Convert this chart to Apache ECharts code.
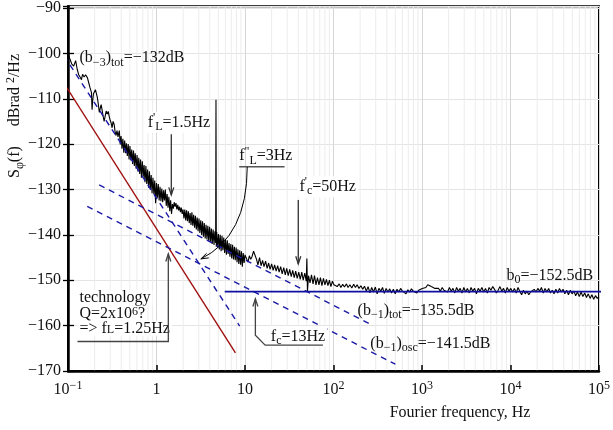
<!DOCTYPE html>
<html>
<head>
<meta charset="utf-8">
<script src="https://cdn.jsdelivr.net/npm/echarts@6/dist/echarts.min.js"></script>
<style>
html, body { margin: 0; padding: 0; background: #fff; }
#chart { width: 613px; height: 430px; }
</style>
</head>
<body>
<div id="chart"></div>
<script>
// decade ticks of the frequency axis and their labels
const decadeTicks = [0.1, 1, 10, 100, 1000, 10000, 100000];
const decadeLabels = ['10{s|−1}', '1', '10', '10{s|2}', '10{s|3}', '10{s|4}', '10{s|5}'];

const spectrumLow = [
    [0.100,-99.5],[0.104,-101.0],[0.110,-102.3],[0.116,-102.8],[0.122,-101.6],[0.127,-103.5],
    [0.132,-104.7],[0.138,-105.3],[0.142,-105.8],[0.146,-104.6],[0.152,-105.2],[0.158,-104.7],
    [0.162,-104.5],[0.166,-105.4],[0.170,-106.2],[0.177,-107.5],[0.184,-108.6],[0.187,-112.4],
    [0.190,-110.5],[0.194,-108.9],[0.199,-108.5],[0.204,-108.0],[0.209,-108.2],[0.214,-109.6],
    [0.220,-111.2],[0.226,-113.0],[0.232,-112.0],[0.237,-111.3],[0.243,-112.5],[0.249,-113.8],
    [0.256,-115.0],[0.263,-114.6],[0.270,-112.7],[0.278,-113.4],[0.285,-112.8],[0.292,-113.9],
    [0.300,-114.8],[0.307,-115.3],[0.315,-116.4],[0.323,-115.0],[0.332,-115.6],[0.340,-117.2],
    [0.349,-118.1],[0.358,-117.0],[0.367,-118.4]
];
const spectrumMid = [
    [0.380,-117.0],[0.389,-120.1],[0.398,-118.2],[0.407,-121.0],[0.417,-118.8],[0.427,-121.9],
    [0.437,-119.2],[0.447,-122.0],[0.457,-119.8],[0.468,-122.6],[0.479,-120.0],[0.490,-123.4],
    [0.501,-120.4],[0.513,-123.6],[0.525,-121.2],[0.537,-124.4],[0.550,-121.4],[0.562,-124.8],
    [0.575,-122.0],[0.589,-125.4],[0.603,-122.4],[0.617,-126.0],[0.631,-123.0],[0.646,-126.6],
    [0.661,-123.4],[0.676,-127.4],[0.692,-123.8],[0.708,-127.2],[0.724,-124.6],[0.741,-128.4],
    [0.759,-124.8],[0.776,-128.8],[0.794,-125.6],[0.813,-129.6],[0.832,-126.0],[0.851,-130.0],
    [0.871,-126.8],[0.891,-130.8],[0.912,-127.4],[0.933,-131.0],[0.955,-128.0],[0.977,-133.0],
    [1.000,-128.6],[1.023,-131.8],[1.047,-128.8],[1.072,-132.4],[1.096,-129.4],[1.122,-132.6],
    [1.148,-129.8],[1.175,-132.8],[1.202,-130.2],[1.230,-132.4],[1.259,-130.0],[1.288,-133.6],
    [1.318,-131.0],[1.349,-134.0],[1.380,-131.6],[1.413,-134.8],[1.445,-132.4],[1.479,-135.4],
    [1.514,-133.2],[1.549,-134.2],[1.585,-132.8],[1.622,-133.8],[1.660,-133.0],[1.698,-134.4],
    [1.738,-133.4],[1.778,-134.6],[1.820,-133.8],[1.862,-135.0],[1.905,-134.0],[1.950,-135.4],
    [1.995,-134.4],[2.042,-136.4],[2.089,-134.4],[2.138,-136.8],[2.188,-134.6],[2.239,-137.0],
    [2.291,-134.8],[2.344,-137.4],[2.399,-135.2],[2.455,-137.8],[2.512,-135.0],[2.570,-138.0],
    [2.630,-135.6],[2.692,-138.4],[2.754,-135.8],[2.818,-138.8],[2.884,-136.2],[2.951,-139.2],
    [3.020,-136.4],[3.090,-139.6],[3.162,-136.8],[3.236,-140.0],[3.311,-137.0],[3.388,-140.4],
    [3.467,-137.4],[3.548,-140.8],[3.631,-137.8],[3.715,-141.0],[3.802,-138.0],[3.890,-141.4],
    [3.981,-138.2],[4.074,-141.6],[4.169,-138.6],[4.266,-142.0],[4.365,-138.8],[4.467,-142.2],
    [4.571,-139.2],[4.660,-141.8],[4.700,-110.2],[4.740,-142.6],[4.786,-139.4],[4.898,-142.8],
    [5.012,-139.8],[5.129,-143.2],[5.248,-140.0],[5.370,-143.6],[5.495,-140.2],[5.623,-143.4],
    [5.754,-140.6],[5.888,-144.0],[6.026,-141.0],[6.166,-144.4],[6.310,-141.2],[6.457,-144.2],
    [6.607,-141.8],[6.761,-144.8],[6.918,-142.0],[7.079,-145.2],[7.244,-142.2],[7.413,-145.4],
    [7.586,-142.6],[7.762,-145.6],[7.943,-142.8],[8.128,-146.0],[8.318,-143.2],[8.511,-146.4],
    [8.710,-143.4],[8.913,-146.6],[9.120,-143.6],[9.333,-147.0],[9.550,-144.0],[9.772,-146.2],
    [10.00,-144.4]
];
const spectrumHigh = [
    [10.4,-144.0],[10.8,-146.0],[11.2,-144.6],[11.6,-145.4],[12.0,-144.8],[12.5,-143.6],
    [13.0,-144.0],[13.5,-145.4],[14.0,-146.6],[14.6,-145.0],[15.2,-146.8],[15.8,-145.6],
    [16.4,-147.0],[17.1,-145.8],[17.8,-147.4],[18.5,-146.2],[19.2,-147.6],[20.0,-146.4],
    [20.8,-147.8],[21.6,-146.6],[22.5,-148.0],[23.4,-146.8],[24.3,-148.2],[25.3,-147.0],
    [26.3,-148.6],[27.4,-147.2],[28.5,-148.8],[29.6,-147.4],[30.8,-149.0],[32.0,-147.6],
    [33.3,-149.2],[34.6,-147.8],[36.0,-149.4],[37.4,-148.0],[38.9,-149.6],[40.5,-148.2],
    [42.1,-149.8],[43.8,-148.2],[45.5,-150.0],[47.3,-148.4],[49.2,-150.2],[50.0,-145.2],
    [50.8,-152.4],[52.2,-149.0],[54.3,-150.6],[56.4,-148.8],[58.7,-150.8],[61.0,-149.0],
    [63.4,-151.0],[65.9,-149.4],[68.5,-151.0],[71.2,-149.4],[74.0,-151.2],[77.0,-149.6],
    [80.0,-151.0],[83.2,-149.8],[86.5,-151.2],[89.9,-150.0],[93.5,-151.4],[97.2,-150.2],
    [101,-151.0]
];
const spectrumFloor = [
    [105,-150.6],[110,-151.4],[116,-150.8],[121,-151.6],[127,-150.9],[133,-151.5],
    [140,-150.8],[146,-151.6],[153,-151.0],[161,-151.7],[169,-150.9],[177,-151.6],
    [185,-151.0],[194,-151.8],[204,-151.2],[214,-152.0],[224,-151.3],[235,-152.4],
    [246,-151.4],[258,-152.8],[270,-151.6],[283,-152.6],[297,-151.5],[311,-153.0],
    [326,-151.8],[342,-152.4],[358,-151.6],[375,-152.9],[393,-151.8],[412,-152.6],
    [432,-151.9],[453,-152.8],[475,-152.0],[498,-153.0],[522,-152.0],[547,-152.6],
    [573,-151.8],[601,-152.4],[630,-152.2],[660,-153.0],[692,-152.1],[725,-152.6],
    [760,-151.9],[797,-152.4],[835,-152.0],[875,-152.8],[917,-152.2],[961,-152.6],
    [1007,-151.8],[1055,-152.2],[1106,-151.6],[1160,-151.0],[1215,-150.8],[1274,-151.4],
    [1335,-151.0],[1400,-151.8],[1467,-152.2],[1540,-151.8],[1610,-152.4],[1690,-151.6],
    [1770,-152.2],[1855,-151.8],[1945,-152.6],[2040,-151.6],[2140,-152.4],[2240,-151.8],
    [2350,-152.8],[2460,-151.6],[2580,-152.4],[2700,-151.8],[2830,-152.8],[2970,-151.6],
    [3110,-152.6],[3260,-151.8],[3420,-152.8],[3580,-151.6],[3750,-152.4],[3930,-151.8],
    [4120,-153.0],[4320,-151.8],[4530,-152.4],[4750,-151.6],[4980,-152.6],[5220,-151.8],
    [5470,-152.8],[5730,-151.6],[6010,-152.2],[6300,-151.4],[6600,-152.0],[6920,-152.8],
    [7250,-152.2],[7600,-151.4],[7970,-152.4],[8350,-151.8],[8750,-152.8],[9170,-151.6],
    [9620,-152.4],[10080,-151.8],[10560,-152.6],[11070,-151.8],[11600,-152.8],[12160,-151.6],
    [12740,-152.4],[13350,-153.2],[13990,-152.2],[14660,-153.0],[15370,-152.4],[16100,-153.2],
    [16880,-152.6],[17690,-153.0],[18540,-152.0],[19430,-152.6],[20360,-151.8],[21340,-152.4],
    [22360,-151.6],[23440,-152.8],[24560,-151.8],[25740,-152.6],[26980,-151.8],[28270,-152.8],
    [29630,-152.2],[31050,-153.0],[32540,-152.0],[34100,-152.8],[35740,-151.8],[37460,-152.6],
    [39260,-152.0],[41140,-153.0],[43110,-152.2],[45180,-153.2],[47350,-152.2],[49620,-153.0],
    [52000,-152.4],[54500,-153.4],[57110,-152.6],[59850,-153.6],[62720,-152.6],[65730,-153.6],
    [68890,-152.8],[72190,-153.8],[75650,-153.0],[79280,-154.0],[83090,-153.2],[87080,-154.2],
    [91250,-153.4],[95630,-154.0],[100000,-153.6]
];

// power law asymptotes, end points
const lineTechnology = [[0.083, -105.5], [7.8, -166.0]];
const lineB3tot = [[0.09, -100.5], [8.7, -160.1]];
const lineB1tot = [[0.225, -129.0], [250, -159.5]];
const lineB1osc = [[0.165, -133.7], [500, -168.5]];
const lineB0 = [[5.9, -152.5], [115000, -152.5]];

const FONT = 'Liberation Serif';
const BLUE = '#1a1aa6';

const chart = echarts.init(document.getElementById('chart'));

const rich = {
    sub: { fontSize: 12, lineHeight: 12, verticalAlign: 'bottom', fontFamily: FONT, fill: '#111' },
    sup: { fontSize: 12, lineHeight: 12, verticalAlign: 'top', fontFamily: FONT, fill: '#111' }
};

const Option = {
    animation: false,
    backgroundColor: '#fff',
    grid: { left: 68, right: 6, top: 2, bottom: 59, show: true, borderColor: '#000', borderWidth: 2 },
    xAxis: {
        type: 'log',
        logBase: 10,
        min: 0.1,
        max: 100000,
        splitNumber: 6,
        axisLine: { lineStyle: { color: '#000', width: 2.5 } },
        axisTick: { inside: true, length: 6, lineStyle: { color: '#000', width: 1.5 } },
        axisLabel: {
            color: '#111',
            fontFamily: FONT,
            fontSize: 16,
            lineHeight: 19,
            margin: 9,
            formatter: function (v) {
                const i = decadeTicks.findIndex(t => Math.abs(Math.log10(t) - Math.log10(v)) < 0.01);
                return i >= 0 ? decadeLabels[i] : '';
            },
            rich: { s: { fontSize: 12, lineHeight: 12, verticalAlign: 'top', fontFamily: FONT, color: '#111' } }
        },
        splitLine: { show: true, lineStyle: { color: '#d6d6d6', width: 1 } }
    },
    yAxis: [{
        type: 'value',
        min: -170,
        max: -89.6,
        interval: 10,
        axisLine: { show: true, lineStyle: { color: '#000', width: 2.5 } },
        axisTick: { inside: true, length: 6, lineStyle: { color: '#000', width: 1.3 } },
        axisLabel: {
            color: '#111', fontFamily: FONT, fontSize: 16, margin: 7, showMaxLabel: false,
            formatter: v => String(v).replace('-', '−')
        },
        splitLine: { lineStyle: { color: '#e4e4e4', width: 1 } }
    }, {
        type: 'value',
        min: -170,
        max: -89.6,
        interval: 10,
        position: 'left',
        axisLine: { show: false },
        axisTick: { inside: false, length: 5, lineStyle: { color: '#000', width: 1.3 } },
        axisLabel: { show: false },
        splitLine: { show: false }
    }],
    series: [
        { type: 'line', data: spectrumLow.concat(spectrumMid, spectrumHigh, spectrumFloor),
          symbol: 'none', lineStyle: { color: '#000', width: 1.1 }, z: 2 },
        { type: 'line', data: lineTechnology, symbol: 'none', clip: false,
          lineStyle: { color: '#a01010', width: 1.4 }, z: 3 },
        { type: 'line', data: lineB3tot, symbol: 'none', clip: false,
          lineStyle: { color: BLUE, width: 1.4, type: [6, 5] }, z: 3 },
        { type: 'line', data: lineB1tot, symbol: 'none', clip: false,
          lineStyle: { color: BLUE, width: 1.4, type: [6, 5] }, z: 3 },
        { type: 'line', data: lineB1osc, symbol: 'none', clip: false,
          lineStyle: { color: BLUE, width: 1.4, type: [6, 5] }, z: 3 },
        { type: 'line', data: lineB0, symbol: 'none', clip: false,
          lineStyle: { color: '#1010a0', width: 1.6 }, z: 3 }
    ]
};
chart.setOption(Option);

function px(d) {
    return chart.convertToPixel({ gridIndex: 0 }, d);
}

function text(at, str, opts = {}) {
    const p = px(at);
    return {
        type: 'text', x: p[0], y: p[1], z: 100, silent: true,
        style: {
            text: str, fontFamily: FONT, fontSize: 16, lineHeight: opts.lh || 21, fill: '#111',
            align: 'left', verticalAlign: 'middle', rich: rich,
            backgroundColor: opts.bg ? '#fff' : null, padding: opts.bg ? [0, 2, 0, 2] : 0
        }
    };
}

function head(from, to, color, width) {
    const ang = Math.atan2(to[1] - from[1], to[0] - from[0]);
    const L = 8, a = 0.32;
    return {
        type: 'polyline', z: 100, silent: true,
        shape: { points: [
            [to[0] - L * Math.cos(ang - a), to[1] - L * Math.sin(ang - a)], to,
            [to[0] - L * Math.cos(ang + a), to[1] - L * Math.sin(ang + a)]] },
        style: { stroke: color, lineWidth: width, fill: null }
    };
}

function arrow(pts, color, width, withHead) {
    const p = pts.map(px);
    const els = [{ type: 'polyline', z: 100, silent: true, shape: { points: p },
        style: { stroke: color, lineWidth: width, fill: null } }];
    if (withHead) els.push(head(p[p.length - 2], p[p.length - 1], color, width));
    return els;
}

const gfx = [];

// minor log grid lines
const gridTop = px([1, -89.6])[1], gridBottom = px([1, -170])[1];
for (let k = -1; k < 5; k++) {
    for (let m = 2; m <= 9; m++) {
        const x = px([m * Math.pow(10, k), -120])[0];
        gfx.push({ type: 'line', z: 0, silent: true, shape: { x1: x, y1: gridTop, x2: x, y2: gridBottom },
            style: { stroke: '#ececec', lineWidth: 1 } });
    }
}

gfx.push(text([0.135, -101], '(b{sub|−3}){sub|tot}=−132dB'));
gfx.push(text([0.754, -115.2], "f{sup|'}{sub|L}=1.5Hz", { bg: true }));
gfx.push(...arrow([[1.47, -117.8], [1.47, -131.2]], '#333', 1.3, true));

gfx.push(text([8.6, -122.6], 'f{sup|"}{sub|L}=3Hz'));
gfx.push(...arrow([[8.6, -125.0], [28, -125.0]], '#555', 1.5, false));
{
    const a = px([10.6, -125.0]), c = px([10.6, -140.3]), b = px([3.17, -145.3]);
    gfx.push({ type: 'bezierCurve', z: 100, silent: true,
        shape: { x1: a[0], y1: a[1], x2: b[0], y2: b[1], cpx1: c[0], cpy1: c[1] },
        style: { stroke: '#000', lineWidth: 1, fill: null } });
    gfx.push(head(c, b, '#000', 1));
}

gfx.push(text([39.1, -129.4], "f{sup|'}{sub|c}=50Hz", { bg: true }));
gfx.push(...arrow([[40, -132.3], [40, -146.4]], '#333', 1.3, true));

gfx.push(text([0.128, -153.8], 'technology', { bg: true, lh: 15 }));
gfx.push(text([0.128, -157.3], 'Q=2x10{sup|6}?', { bg: true, lh: 15 }));
gfx.push(text([0.128, -160.6], '=> f{sub|L}=1.25Hz', { bg: true, lh: 15 }));
gfx.push(...arrow([[0.128, -163.5], [1.36, -163.5], [1.36, -144.2]], '#444', 1.3, true));

gfx.push(text([18.6, -162.4], 'f{sub|c}=13Hz', { bg: true }));
gfx.push(...arrow([[76, -164.3], [16.9, -164.3], [13.1, -162.1], [13.1, -154.1]], '#444', 1.3, true));

gfx.push(text([187, -156.7], '(b{sub|−1}){sub|tot}=−135.5dB'));
gfx.push(text([261, -163.9], '(b{sub|−1}){sub|osc}=−141.5dB'));
gfx.push(text([8990, -149.0], 'b{sub|0}=−152.5dB'));

// axis titles
gfx.push({ type: 'text', x: 15, y: 116, rotation: Math.PI / 2, z: 100, silent: true,
    style: { text: 'S{sub|φ}(f)     dBrad {sup|2}/Hz', fontFamily: FONT, fontSize: 16, lineHeight: 21,
        fill: '#111', align: 'center', verticalAlign: 'middle', rich: rich } });
gfx.push({ type: 'text', x: 460, y: 413, z: 100, silent: true,
    style: { text: 'Fourier frequency, Hz', fontFamily: FONT, fontSize: 16, fill: '#111',
        align: 'center', verticalAlign: 'middle' } });

chart.setOption({ graphic: gfx });
</script>
</body>
</html>
